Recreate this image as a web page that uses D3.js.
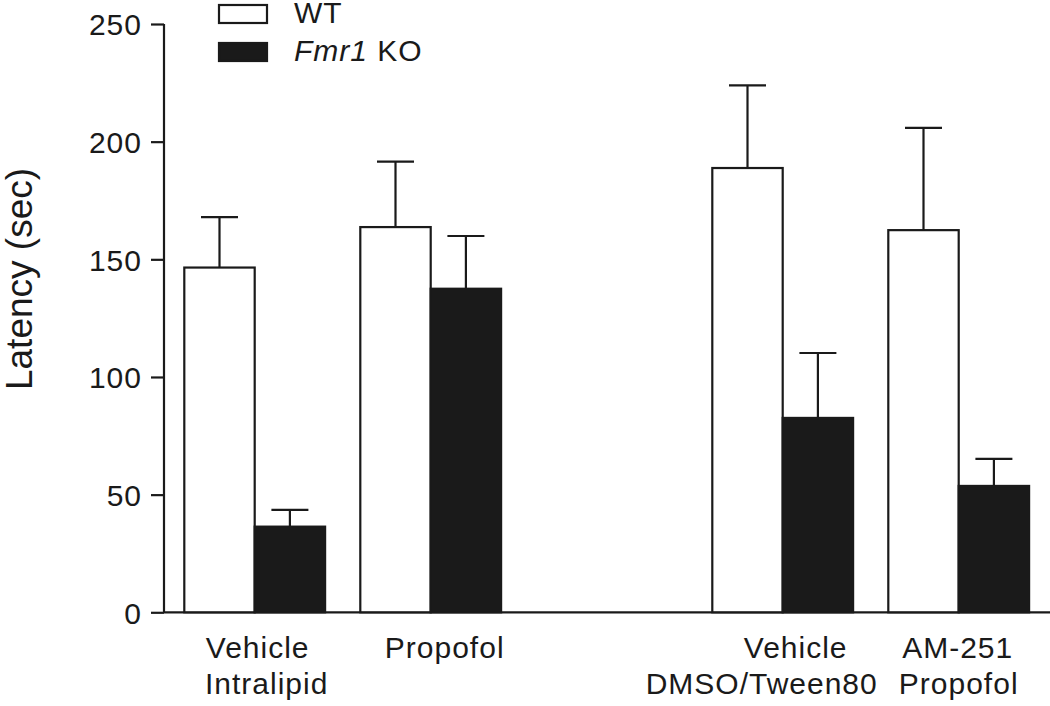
<!DOCTYPE html>
<html>
<head>
<meta charset="utf-8">
<script src="https://cdn.jsdelivr.net/npm/d3@7"></script>
<style>
  html, body { margin: 0; padding: 0; background: #fff; }
  svg { display: block; }
  text { font-family: "Liberation Sans", Arial, Helvetica, sans-serif; fill: #1a1a1a; }
</style>
</head>
<body>
<svg id="chart" width="1050" height="706"></svg>
<script>
// ---- data ----
const categories = ["Vehicle|Intralipid", "Propofol", "Vehicle|DMSO/Tween80", "AM-251|Propofol"];
const series = ["WT", "Fmr1 KO"];
const wtMean = [146.5, 163.7, 188.8, 162.4];
const wtErr  = [21.4, 27.8, 35.1, 43.5];
const koMean = [36.4, 137.5, 82.6, 53.7];
const koErr  = [7.1, 22.4, 27.6, 11.5];
const yTicks = [0, 50, 100, 150, 200, 250];
const yTitle = "Latency (sec)";

// ---- layout ----
const svg = d3.select("#chart");
const axisX = 164, y0 = 612.3, yTop = 24;
const ink = "#1a1a1a";
const slots = ["g0", "g1", "gap", "g2", "g3"];
const slotOf = ["g0", "g1", "g2", "g3"];

const y = d3.scaleLinear().domain([0, 250]).range([y0, yTop]);
const x = d3.scaleBand().domain(slots).range([165.7, 1045.7]).paddingInner(0.2).paddingOuter(0.1);
const xs = d3.scaleBand().domain(series).range([0, x.bandwidth()]);
const color = d3.scaleOrdinal().domain(series).range(["#ffffff", ink]);

const rows = [];
categories.forEach((c, i) => {
  rows.push({cat: i, s: series[0], v: wtMean[i], e: wtErr[i]});
  rows.push({cat: i, s: series[1], v: koMean[i], e: koErr[i]});
});

// y axis
const yAxis = d3.axisLeft(y).tickValues(yTicks).tickSize(13).tickPadding(9).tickFormat(d3.format("d"));
const gy = svg.append("g").attr("transform", `translate(${axisX},0)`).call(yAxis);
gy.select(".domain").attr("stroke", ink).attr("stroke-width", 2.2).attr("d", `M0,${yTop}V${y0}`);
gy.selectAll(".tick line").attr("stroke", ink).attr("stroke-width", 2.2);
gy.selectAll(".tick text").style("font-size", "30px").style("letter-spacing", "1px")
  .attr("fill", ink).attr("dy", "0.36em");

// x axis line
svg.append("line").attr("x1", axisX).attr("x2", 1050).attr("y1", y0).attr("y2", y0)
  .attr("stroke", ink).attr("stroke-width", 2.2);

// bars
const gBars = svg.append("g");
gBars.selectAll("rect").data(rows).join("rect")
  .attr("x", d => x(slotOf[d.cat]) + xs(d.s) + 1)
  .attr("width", xs.bandwidth() - 0)
  .attr("y", d => y(d.v))
  .attr("height", d => y0 - y(d.v))
  .attr("fill", d => color(d.s))
  .attr("stroke", ink).attr("stroke-width", 2.2);

// error bars
const capHalf = 18.5;
const gErr = svg.append("g").attr("stroke", ink).attr("stroke-width", 2.2);
rows.forEach(d => {
  const cx = x(slotOf[d.cat]) + xs(d.s) + xs.bandwidth() / 2 + 1;
  gErr.append("line").attr("x1", cx).attr("x2", cx).attr("y1", y(d.v)).attr("y2", y(d.v + d.e));
  gErr.append("line").attr("x1", cx - capHalf).attr("x2", cx + capHalf).attr("y1", y(d.v + d.e)).attr("y2", y(d.v + d.e));
});

// category labels
const labelDx = [[4, 13], [15], [14, -20], [0, 1]];
categories.forEach((c, i) => {
  const cx = x(slotOf[i]) + x.bandwidth() / 2;
  c.split("|").forEach((line, j) => {
    svg.append("text").attr("x", cx + labelDx[i][j]).attr("y", 658 + j * 36)
      .attr("text-anchor", "middle").style("font-size", "30px").style("letter-spacing", "1px")
      .text(line);
  });
});

// y title
svg.append("text").attr("transform", "translate(32,279) rotate(-90)")
  .attr("text-anchor", "middle").style("font-size", "37px").text(yTitle);

// legend
const leg = svg.append("g");
series.forEach((s, i) => {
  const ly = 5 + i * 38;
  leg.append("rect").attr("x", 219).attr("y", ly).attr("width", 48).attr("height", 18)
    .attr("fill", color(s)).attr("stroke", ink).attr("stroke-width", 2.2);
  const t = leg.append("text").attr("x", 294).attr("y", ly + 18)
    .style("font-size", "30px").style("letter-spacing", "1px");
  if (s === "Fmr1 KO") {
    t.append("tspan").style("font-style", "italic").text("Fmr1");
    t.append("tspan").text(" KO");
  } else {
    t.text(s);
  }
});
</script>
</body>
</html>
